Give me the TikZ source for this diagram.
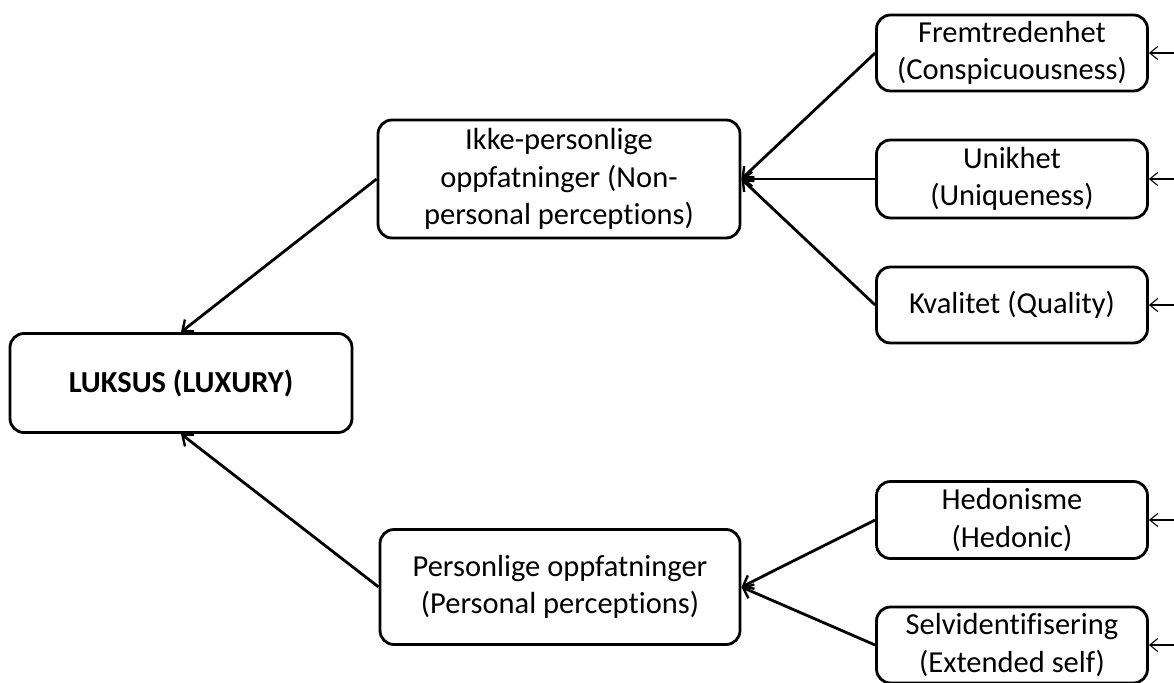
\documentclass[tikz,border=0pt]{standalone}
\usepackage{fontspec}
\setmainfont{Carlito}[Ligatures={NoCommon}]
\usetikzlibrary{arrows.meta}
\begin{document}
\begin{tikzpicture}[x=1pt,y=-1pt,
  box/.style={draw=black, line width=2.8pt, rounded corners=14pt, fill=white,
    align=center, inner sep=2pt, font=\fontsize{30.5}{37.5}\selectfont},
  small/.style={box, minimum width=271pt},
  thick/.style={line width=2.8pt, -{Straight Barb[length=9pt,width=15pt,line width=2.4pt]}},
  thin/.style={line width=1.1pt, -{Straight Barb[length=8pt,width=13pt]}}
]
\useasboundingbox (0,0) rectangle (1174,682);
\fill[white] (0,0) rectangle (1174,682);

\node[box, minimum width=342pt, minimum height=99pt, font=\fontsize{30.5}{36}\selectfont\bfseries] (lux) at (181,383) {LUKSUS (LUXURY)};
\node[box, minimum width=362pt, minimum height=118pt] (ikke) at (559,179) {Ikke-personlige\\oppfatninger (Non-\\personal perceptions)};
\node[box, minimum width=360pt, minimum height=115pt] (pers) at (560,587) {Personlige oppfatninger\\(Personal perceptions)};

\node[small, minimum height=76pt] (frem) at (1012,53) {Fremtredenhet\\(Conspicuousness)};
\node[small, minimum height=78pt] (unik) at (1012,179) {Unikhet\\(Uniqueness)};
\node[small, minimum height=76pt] (kval) at (1012,305) {Kvalitet (Quality)};
\node[small, minimum height=77pt] (hed) at (1012,520) {Hedonisme\\(Hedonic)};
\node[small, minimum height=76pt] (selv) at (1012,645) {Selvidentifisering\\(Extended self)};

\draw[thick] (ikke.west) -- (lux.north);
\draw[thick] (pers.west) -- (lux.south);
\draw[thick] (frem.west) -- (ikke.east);
\draw[thick] (unik.west) -- (ikke.east);
\draw[thick] (kval.west) -- (ikke.east);
\draw[thick] (hed.west) -- (pers.east);
\draw[thick] (selv.west) -- (pers.east);

\coordinate (f0) at (1176,53);
\coordinate (u0) at (1176,179);
\coordinate (k0) at (1176,305);
\coordinate (h0) at (1176,520);
\coordinate (s0) at (1176,645);
\draw[thin] (f0) -- (frem.east);
\draw[thin] (u0) -- (unik.east);
\draw[thin] (k0) -- (kval.east);
\draw[thin] (h0) -- (hed.east);
\draw[thin] (s0) -- (selv.east);
\end{tikzpicture}
\end{document}
